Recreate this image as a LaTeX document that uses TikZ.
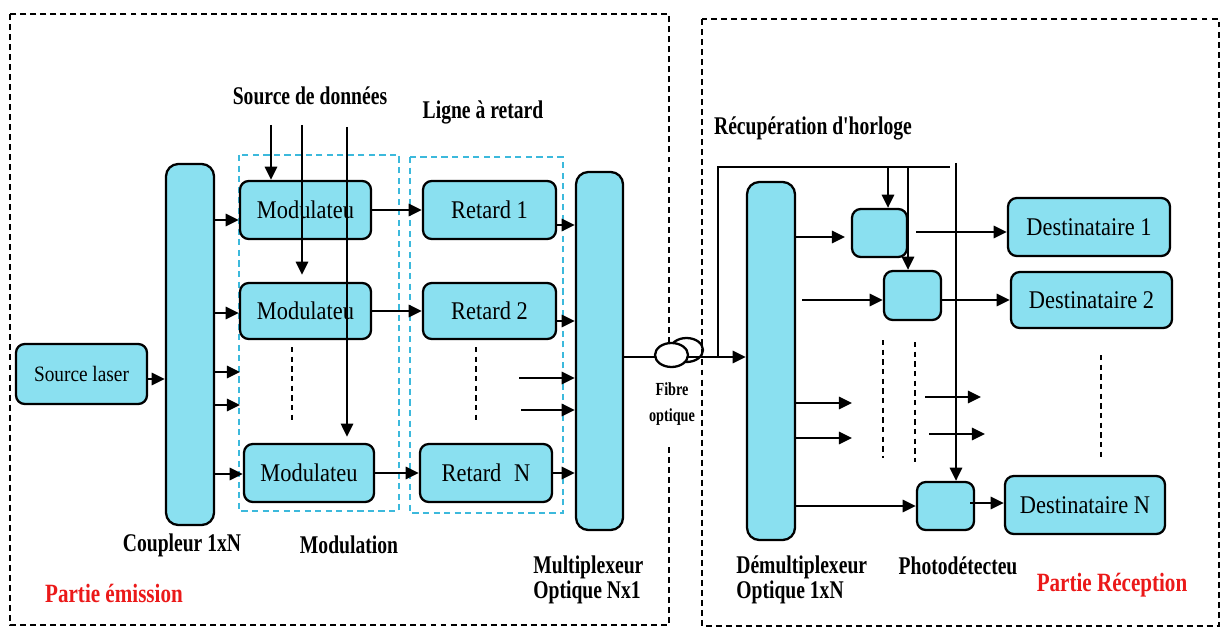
\documentclass[tikz,border=0pt]{standalone}
\usepackage{fontspec}
\setmainfont{Liberation Serif}
\newfontfamily\boxfont{Liberation Serif}[FakeStretch=0.88]
\newfontfamily\lblfont{Liberation Serif}[FakeStretch=0.77]
\newfontfamily\redfont{Liberation Serif}[FakeStretch=0.8]
\usetikzlibrary{arrows.meta}
\definecolor{blockcyan}{RGB}{138,224,240}
\definecolor{groupcyan}{RGB}{60,185,220}
\definecolor{partred}{RGB}{235,25,25}

\begin{document}
\begin{tikzpicture}[x=0.02cm,y=-0.02cm,
  sz/.style 2 args={minimum width={#1*0.02cm}, minimum height={#2*0.02cm}},
  blk/.style={draw=black, line width=1.3pt, fill=blockcyan, rounded corners=5pt,
    inner sep=0pt, font=\boxfont\fontsize{14.5}{16}\selectfont},
  bar/.style={blk, rounded corners=7pt},
  arr/.style={line width=1.3pt, -{Triangle[length=7.5pt,width=7pt]}},
  wire/.style={line width=1.3pt},
  zone/.style={draw=black, line width=1.2pt, dash pattern=on 3.4pt off 2.3pt},
  group/.style={draw=groupcyan, line width=1pt, dash pattern=on 3.5pt off 2.5pt},
  vdots/.style={line width=1.1pt, dash pattern=on 3pt off 2.5pt},
  lbl/.style={inner sep=0pt, font=\lblfont\bfseries\fontsize{14.5}{14.2}\selectfont},
  part/.style={inner sep=0pt, text=partred, font=\redfont\bfseries\fontsize{15}{17}\selectfont}
]
\useasboundingbox (0,0) rectangle (1222,628);

% ---------- emission side ----------
\draw[zone] (10,14) rectangle (669,625);
\draw[group] (239,155) rectangle (399,511);
\draw[group] (410,157) rectangle (563,513);

\node[blk, sz={131}{60}, font=\boxfont\fontsize{12.5}{14}\selectfont] (laser) at (81.5,374) {Source laser};
\node[bar, sz={48}{361}] (coupler) at (190,344.5) {};
\node[blk, sz={131}{58}] (mod1) at (305.5,210) {Modulateu};
\node[blk, sz={131}{56}] (mod2) at (305.5,311) {Modulateu};
\node[blk, sz={130}{58}] (modN) at (309,473) {Modulateu};
\node[blk, sz={133}{58}] (ret1) at (489.5,210) {Retard 1};
\node[blk, sz={133}{56}] (ret2) at (489.5,311) {Retard 2};
\node[blk, sz={132}{58}] (retN) at (486,473) {Retard\enspace N};
\node[bar, sz={47}{358}] (mux) at (599.5,351) {};

% laser into the coupler
\draw[arr] (laser.east |- 0,379) -- (coupler.west |- 0,379);
% coupler outputs
\draw[arr] (coupler.east |- 0,220) -- (mod1.west |- 0,220);
\draw[arr] (coupler.east |- 0,313) -- (mod2.west |- 0,313);
\draw[arr] (coupler.east |- 0,474) -- (modN.west |- 0,474);
\coordinate (c3) at (240,372);
\coordinate (c4) at (240,405);
\draw[arr] (coupler.east |- c3) -- (c3);
\draw[arr] (coupler.east |- c4) -- (c4);

% data sources feeding the modulators
\coordinate (s1) at (271,125);
\coordinate (s2) at (302,125);
\coordinate (s3) at (347,127);
\draw[arr] (s1) -- (s1 |- mod1.north);
\draw[arr, shorten >=4pt] (s2) -- (s2 |- mod2.north);
\draw[arr, shorten >=3.5pt] (s3) -- (s3 |- modN.north);

% modulators to delay lines
\draw[arr] (mod1.east) -- (ret1.west);
\draw[arr] (mod2.east) -- (ret2.west);
\draw[arr] (modN.east) -- (retN.west);

% delay lines into the multiplexer
\draw[arr] (ret1.east |- 0,225) -- (mux.west |- 0,225);
\draw[arr] (ret2.east |- 0,321) -- (mux.west |- 0,321);
\draw[arr] (retN.east |- 0,473) -- (mux.west |- 0,473);
\coordinate (m3) at (519,378);
\coordinate (m4) at (521,410);
\draw[arr] (m3) -- (m3 -| mux.west);
\draw[arr] (m4) -- (m4 -| mux.west);

\draw[vdots] (292,347) -- (292,423);
\draw[vdots] (476,347) -- (476,420);

% fibre caption, masking the frame edge behind it
\node[lbl, fill=white, align=center, minimum width=0.9cm, minimum height=1.56cm,
  font=\lblfont\bfseries\fontsize{10.5}{14.7}\selectfont] (tfib) at (672,404) {Fibre\\optique};

% ---------- reception side ----------
\node[bar, sz={48}{358}] (demux) at (771,361) {};
\node[blk, sz={55}{48}] (pd1) at (879.5,233) {};
\node[blk, sz={57}{49}] (pd2) at (912.5,295.5) {};
\node[blk, sz={57}{48}] (pdN) at (945.5,506) {};
\node[blk, sz={162}{58}] (d1) at (1089,227) {Destinataire 1};
\node[blk, sz={161}{56}] (d2) at (1091.5,300) {Destinataire 2};
\node[blk, sz={160}{58}] (dN) at (1085,505) {Destinataire N};

% optical fibre with its coil
\draw[wire] (686.5,350) ellipse [x radius=0.33cm, y radius=0.24cm];
\draw[arr] (mux.east |- 0,357) -- (demux.west |- 0,357);
\draw[wire, fill=white] (671.5,355) ellipse [x radius=0.33cm, y radius=0.24cm];

% clock recovery lines
\coordinate (h0) at (718,357);
\coordinate (h1) at (718,167);
\coordinate (h2) at (950,167);
\draw[wire] (h0) -- (h1) -- (h2);
\coordinate (k1) at (888,167);
\coordinate (k2) at (908,167);
\coordinate (k3) at (956,163);
\draw[arr] (k1) -- (k1 |- pd1.north);
\draw[arr] (k2) -- (k2 |- pd2.north);
\draw[arr] (k3) -- (k3 |- pdN.north);

% demultiplexer outputs
\coordinate (e1) at (845,237);
\coordinate (e2) at (802,300);
\coordinate (e3) at (852,403);
\coordinate (e4) at (852,438);
\draw[arr] (demux.east |- e1) -- (e1);
\draw[arr] (e2) -- (e2 -| pd2.west);
\draw[arr] (demux.east |- e3) -- (e3);
\draw[arr] (demux.east |- e4) -- (e4);
\draw[arr] (demux.east |- 0,506) -- (pdN.west |- 0,506);

% photodetectors to receivers
\coordinate (f1) at (916,232);
\coordinate (f3) at (970,503);
\draw[arr] (f1) -- (f1 -| d1.west);
\draw[arr] (pd2.east |- 0,300) -- (d2.west |- 0,300);
\draw[arr] (f3) -- (f3 -| dN.west);
\coordinate (g1) at (925,397);
\coordinate (g2) at (981,397);
\coordinate (g3) at (929,434);
\coordinate (g4) at (985,434);
\draw[arr] (g1) -- (g2);
\draw[arr] (g3) -- (g4);

\draw[vdots] (883,340) -- (883,458);
\draw[vdots] (915,342) -- (915,462);
\draw[vdots] (1101,355) -- (1101,457);

\draw[zone] (702,19) rectangle (1219,626);

% ---------- labels ----------
\node[lbl] (tsrc) at (310,96) {Source de données};
\node[lbl] (tdel) at (483,112) {Ligne à retard};
\node[lbl] (tcpl) at (182,545) {Coupleur 1xN};
\node[lbl] (tmod) at (349,545) {Modulation};
\node[part] (tem) at (114,593) {Partie émission};
\node[lbl, align=left, anchor=west] (tmux) at (533,580) {Multiplexeur\\Optique Nx1};
\node[lbl] (tclk) at (813,128) {Récupération d'horloge};
\node[lbl, align=left, anchor=west] (tdmx) at (736,580) {Démultiplexeur\\Optique 1xN};
\node[lbl] (tpd) at (958,566) {Photodétecteu};
\node[part] (trec) at (1112,585) {Partie Réception};
\end{tikzpicture}
\end{document}
